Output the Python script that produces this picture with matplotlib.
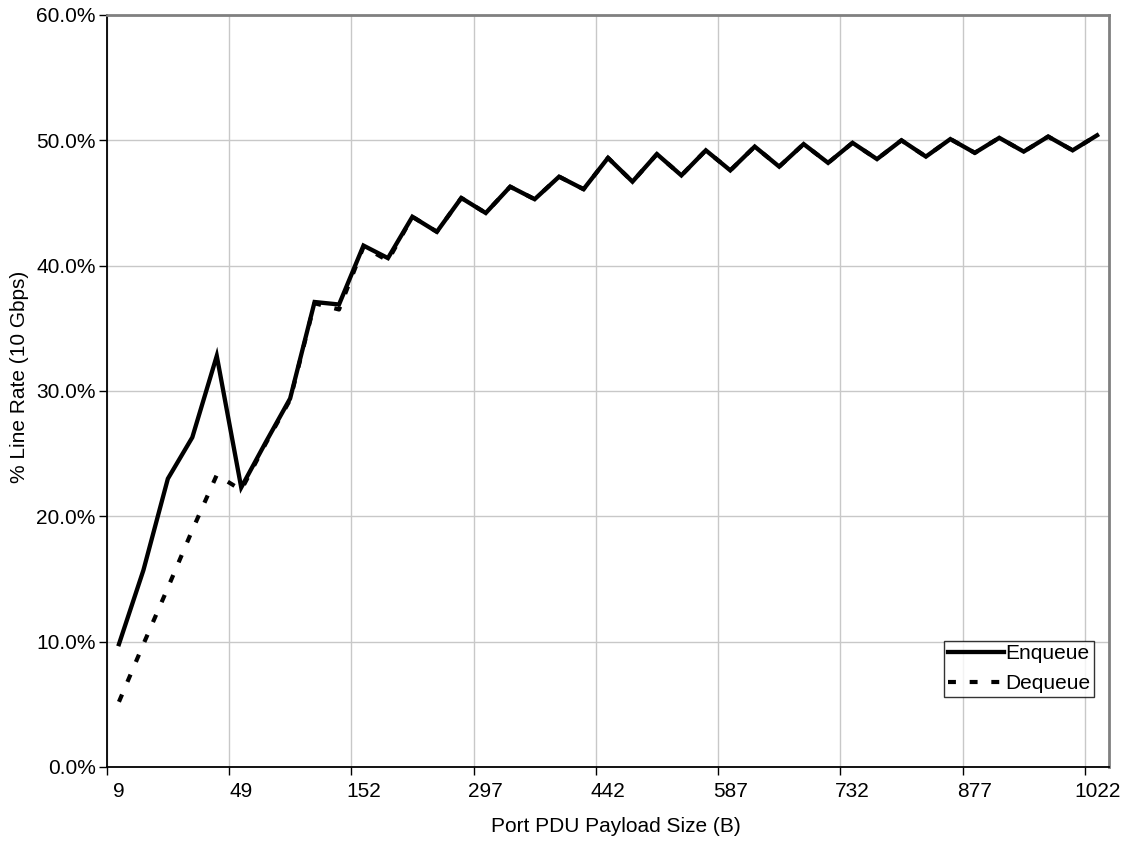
import numpy as np
import matplotlib
matplotlib.use("Agg")
import matplotlib.pyplot as plt
from matplotlib.ticker import FixedLocator, FuncFormatter

# category axis: payload sizes (B)
payload_sizes = [9, 17, 25, 33, 41, 49, 65, 81, 94, 123,
                 152, 181, 210, 239, 268, 297, 326, 355, 384, 413,
                 442, 471, 500, 529, 558, 587, 616, 645, 674, 703,
                 732, 761, 790, 819, 848, 877, 906, 935, 964, 993, 1022]

# % of 10 Gbps line rate
enqueue = [9.8, 15.7, 23.0, 26.3, 32.8, 22.3, 25.9, 29.4, 37.1, 36.9,
           41.6, 40.6, 43.9, 42.7, 45.4, 44.2, 46.3, 45.3, 47.1, 46.1,
           48.6, 46.7, 48.9, 47.2, 49.2, 47.6, 49.5, 47.9, 49.7, 48.2,
           49.8, 48.5, 50.0, 48.7, 50.1, 49.0, 50.2, 49.1, 50.3, 49.2, 50.4]
dequeue = [5.2, 9.8, 14.3, 18.9, 23.3, 22.1, 25.8, 29.3, 37.0, 36.5,
           41.5, 40.4, 43.9, 42.7, 45.4, 44.2, 46.3, 45.3, 47.1, 46.1,
           48.6, 46.7, 48.9, 47.2, 49.2, 47.6, 49.5, 47.9, 49.7, 48.2,
           49.8, 48.5, 50.0, 48.7, 50.1, 49.0, 50.2, 49.1, 50.3, 49.2, 50.4]

label_every = 5

plt.rcParams['font.family'] = ['Liberation Sans', 'DejaVu Sans']
plt.rcParams['font.size'] = 15

fig = plt.figure(figsize=(11.27, 8.46), dpi=100)
ax = fig.add_axes([0.0947, 0.0934, 0.8896, 0.8889])

x = np.arange(len(payload_sizes))
ax.plot(x, dequeue, color='black', linewidth=3, linestyle=(0, (1.9, 3.3)),
        dash_capstyle='butt', label='Dequeue', zorder=3)
ax.plot(x, enqueue, color='black', linewidth=3.1, solid_joinstyle='miter',
        label='Enqueue', zorder=4)

ax.set_xlim(-0.5, len(payload_sizes) - 0.5)
ax.set_ylim(0, 60)

# tick marks sit between categories, labels on the category itself
major = [i - 0.5 for i in range(0, len(payload_sizes), label_every)]
minor = list(range(0, len(payload_sizes), label_every))
ax.xaxis.set_major_locator(FixedLocator(major))
ax.xaxis.set_major_formatter(FuncFormatter(lambda v, p: ''))
ax.set_xticks(minor, [str(payload_sizes[i]) for i in minor], minor=True)
ax.tick_params(axis='x', which='major', length=6, width=1, direction='out')
ax.tick_params(axis='x', which='minor', length=0, pad=11)

ax.set_yticks(np.arange(0, 61, 10))
ax.yaxis.set_major_formatter(FuncFormatter(lambda v, p: f'{v:.1f}%'))
ax.tick_params(axis='y', length=6, width=1, direction='out', pad=2)

ax.grid(True, which='major', color='#c8c8c8', linewidth=1)
ax.set_axisbelow(True)

for side in ['left', 'bottom']:
    ax.spines[side].set_color('black')
    ax.spines[side].set_linewidth(1.3)
for side in ['top', 'right']:
    ax.spines[side].set_color('#808080')
    ax.spines[side].set_linewidth(2)

ax.set_xlabel('Port PDU Payload Size (B)')
ax.set_ylabel('% Line Rate (10 Gbps)')
ax.xaxis.set_label_coords(0.508, -0.066)
ax.yaxis.set_label_coords(-0.0775, 0.5186)

handles, labels = ax.get_legend_handles_labels()
leg = ax.legend(handles[::-1], labels[::-1], loc='upper left',
                bbox_to_anchor=(944 / 1127, 1 - 640.7 / 846),
                bbox_transform=fig.transFigure, frameon=True, fancybox=False,
                edgecolor='black', borderpad=0.18, borderaxespad=0,
                handlelength=2.7, handletextpad=0.05, labelspacing=0.5,
                fontsize=15)
leg.get_frame().set_linewidth(1)

fig.savefig('out.png', dpi=100, facecolor='white')
